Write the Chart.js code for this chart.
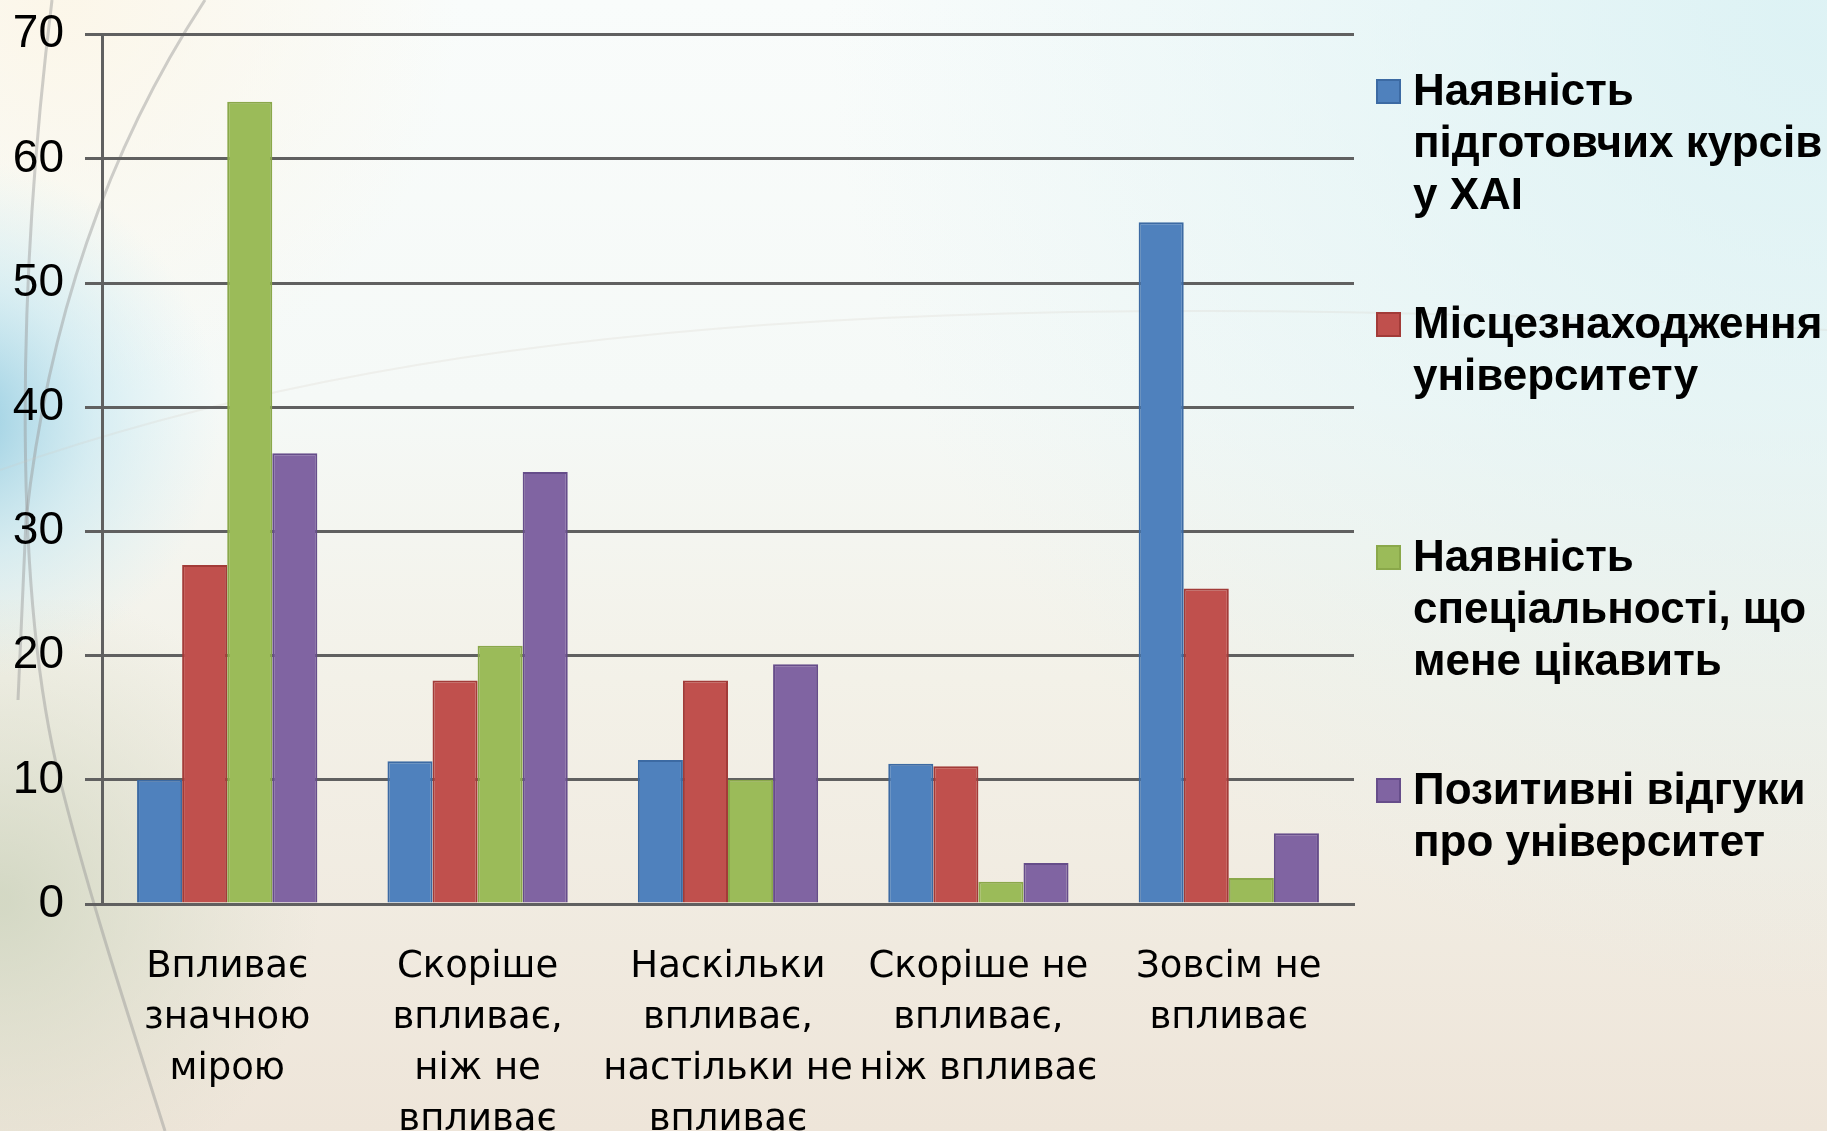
<!DOCTYPE html>
<html lang="uk">

<head>
    <meta charset="UTF-8">
    <title>Фактори вибору університету</title>
    <style>
        body {
            margin: 0;
            overflow: hidden;
            background: #f4f4ee;
        }

        #myChart {
            display: block;
        }
    </style>
</head>

<body>
    <canvas id="myChart" width="1827" height="1131"></canvas>

    <script src="https://cdn.jsdelivr.net/npm/chart.js"></script>

    <script>
        // категорії (підписи осі X, по рядках)
        const categories = [
            ['Впливає', 'значною', 'мірою'],
            ['Скоріше', 'впливає,', 'ніж не', 'впливає'],
            ['Наскільки', 'впливає,', 'настільки не', 'впливає'],
            ['Скоріше не', 'впливає,', 'ніж впливає'],
            ['Зовсім не', 'впливає']
        ];

        // назви рядів (для легенди, по рядках)
        const series_names = [
            ['Наявність', 'підготовчих курсів', 'у ХАІ'],
            ['Місцезнаходження', 'університету'],
            ['Наявність', 'спеціальності, що', 'мене цікавить'],
            ['Позитивні відгуки', 'про університет']
        ];

        const courses_list = [10.0, 11.5, 11.6, 11.3, 54.9];
        const location_list = [27.3, 18.0, 18.0, 11.1, 25.4];
        const specialty_list = [64.6, 20.8, 10.0, 1.8, 2.1];
        const reviews_list = [36.3, 34.8, 19.3, 3.3, 5.7];

        const y_min = 0;
        const y_max = 70;
        const y_step = 10;

        const fill_colors = ['#4f81bd', '#c0504d', '#9bbb59', '#8064a2'];
        const edge_colors = ['#3c6aa3', '#a23b38', '#8aa84a', '#664d8a'];

        // фон слайду
        const bg_plugin = {
            id: 'bg_plugin',
            beforeDraw(chart) {
                const c = chart.ctx;
                const w = chart.width, h = chart.height;
                c.save();
                let g = c.createLinearGradient(0, 0, 0, h);
                g.addColorStop(0, '#f9fcfb');
                g.addColorStop(0.35, '#f5f9f7');
                g.addColorStop(0.6, '#f3f1e8');
                g.addColorStop(1, '#eee5d9');
                c.fillStyle = g;
                c.fillRect(0, 0, w, h);

                // холодний відтінок праворуч угорі
                let g2 = c.createRadialGradient(w, 0, 50, w, 0, 1000);
                g2.addColorStop(0, 'rgba(215,240,243,0.8)');
                g2.addColorStop(1, 'rgba(215,240,243,0)');
                c.fillStyle = g2;
                c.fillRect(0, 0, w, h);

                // кремова смуга між дугами зліва вгорі
                let g3 = c.createRadialGradient(60, 0, 20, 60, 0, 400);
                g3.addColorStop(0, 'rgba(252,246,232,0.9)');
                g3.addColorStop(1, 'rgba(252,246,232,0)');
                c.fillStyle = g3;
                c.fillRect(0, 0, 500, 500);

                // блакитна пляма зліва
                let r = c.createRadialGradient(-40, 420, 10, -40, 420, 260);
                r.addColorStop(0, 'rgba(130,195,220,0.8)');
                r.addColorStop(0.5, 'rgba(190,228,240,0.55)');
                r.addColorStop(1, 'rgba(205,238,246,0)');
                c.fillStyle = r;
                c.fillRect(0, 120, 300, 650);

                let r2 = c.createRadialGradient(0, 900, 10, 0, 900, 320);
                r2.addColorStop(0, 'rgba(205,212,190,0.8)');
                r2.addColorStop(1, 'rgba(215,220,200,0)');
                c.fillStyle = r2;
                c.fillRect(0, 600, 320, 531);

                // декоративні дуги
                c.strokeStyle = 'rgba(150,150,150,0.45)';
                c.lineWidth = 3;
                c.beginPath();
                c.moveTo(205, 0);
                c.bezierCurveTo(120, 130, 50, 300, 26, 520);
                c.lineTo(18, 700);
                c.stroke();

                c.beginPath();
                c.moveTo(52, 0);
                c.bezierCurveTo(15, 300, 15, 600, 60, 780);
                c.bezierCurveTo(90, 900, 130, 1020, 165, 1131);
                c.stroke();

                c.strokeStyle = 'rgba(210,200,190,0.2)';
                c.lineWidth = 2;
                c.beginPath();
                c.moveTo(0, 470);
                c.bezierCurveTo(400, 330, 900, 280, 1827, 330);
                c.stroke();
                c.restore();
            }
        };

        // легенда праворуч
        const legend_plugin = {
            id: 'legend_plugin',
            afterDraw(chart) {
                const c = chart.ctx;
                c.save();
                c.font = 'bold 44px "Liberation Sans"';
                c.textBaseline = 'alphabetic';
                c.textAlign = 'left';
                chart.data.datasets.forEach(function (ds, i) {
                    const base = 105 + i * 233;
                    c.fillStyle = ds.backgroundColor;
                    c.fillRect(1377, base - 25, 23, 23);
                    c.strokeStyle = ds.borderColor;
                    c.lineWidth = 2;
                    c.strokeRect(1377, base - 25, 23, 23);
                    c.fillStyle = '#000';
                    series_names[i].forEach(function (line, j) {
                        c.fillText(line, 1413, base + j * 52);
                    });
                });
                c.restore();
            }
        };

        const ctx = document.getElementById('myChart');

        let config = {
            type: 'bar',
            data: {
                labels: categories,
                datasets: [
                    { label: series_names[0].join(' '), data: courses_list },
                    { label: series_names[1].join(' '), data: location_list },
                    { label: series_names[2].join(' '), data: specialty_list },
                    { label: series_names[3].join(' '), data: reviews_list }
                ].map(function (ds, i) {
                    ds.backgroundColor = fill_colors[i];
                    ds.borderColor = edge_colors[i];
                    ds.borderWidth = 2;
                    ds.categoryPercentage = 0.72;
                    ds.barPercentage = 1.0;
                    return ds;
                })
            },
            options: {
                responsive: false,
                devicePixelRatio: 1,
                animation: false,
                layout: {
                    padding: { left: 0, right: 473, top: 31, bottom: 0 }
                },
                plugins: {
                    legend: { display: false },
                    tooltip: { enabled: false }
                },
                scales: {
                    x: {
                        grid: { display: false },
                        border: { display: true, color: '#606060', width: 3 },
                        ticks: {
                            color: '#000',
                            font: { family: '"DejaVu Sans"', size: 37, lineHeight: 1.38 },
                            padding: 30,
                            maxRotation: 0,
                            autoSkip: false
                        },
                        afterFit: function (scale) {
                            scale.height = 227;
                        }
                    },
                    y: {
                        min: y_min,
                        max: y_max,
                        ticks: {
                            stepSize: y_step,
                            color: '#000',
                            font: { family: '"Liberation Sans"', size: 46, lineHeight: 0.6 },
                            padding: 21
                        },
                        grid: {
                            color: '#606060',
                            lineWidth: 3,
                            tickLength: 17,
                            drawTicks: true
                        },
                        border: { display: true, color: '#606060', width: 3 },
                        afterFit: function (scale) {
                            scale.width = 102;
                        }
                    }
                }
            },
            plugins: [bg_plugin, legend_plugin]
        };

        let myChart = new Chart(ctx, config);
    </script>
</body>

</html>
